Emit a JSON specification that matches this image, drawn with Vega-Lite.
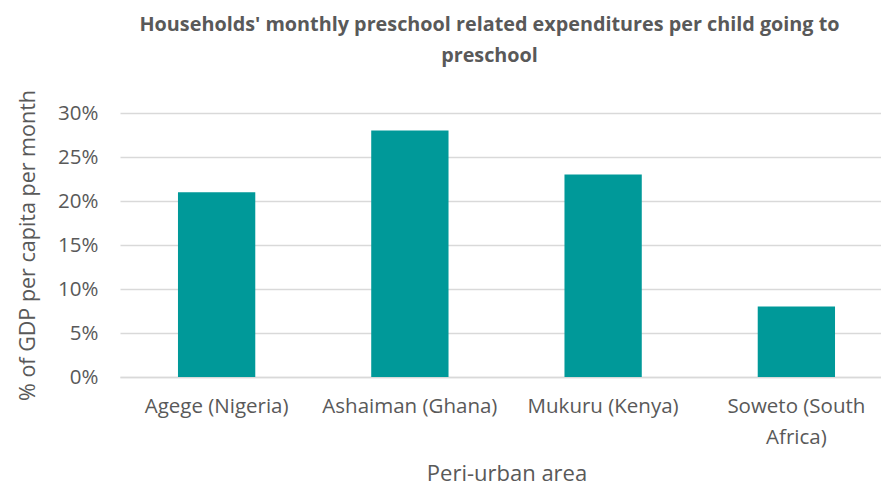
{
  "$schema": "https://vega.github.io/schema/vega-lite/v6.json",
  "autosize": "none",
  "width": 773,
  "height": 264,
  "padding": {"left": 120, "top": 113, "right": 0, "bottom": 111},
  "background": "white",
  "config": {
    "view": {"stroke": null},
    "font": "Open Sans"
  },
  "title": {
    "text": ["Households' monthly preschool related expenditures per child going to", "preschool"],
    "font": "Open Sans",
    "fontSize": 19.8,
    "fontWeight": "bold",
    "color": "#595959",
    "anchor": "middle",
    "dx": -17,
    "offset": 24,
    "lineHeight": 31
  },
  "data": {
    "values": [
      {"area": "Agege (Nigeria)", "value": 0.21},
      {"area": "Ashaiman (Ghana)", "value": 0.28},
      {"area": "Mukuru (Kenya)", "value": 0.23},
      {"area": "Soweto (South Africa)", "value": 0.08}
    ]
  },
  "mark": {"type": "bar", "color": "#009999"},
  "encoding": {
    "x": {
      "field": "area",
      "type": "nominal",
      "sort": null,
      "scale": {"paddingInner": 0.6, "paddingOuter": 0.3},
      "axis": {
        "title": "Peri-urban area",
        "titleFont": "Open Sans",
        "titleFontSize": 22,
        "titleFontWeight": "normal",
        "titleColor": "#595959",
        "titlePadding": 16,
        "labelAngle": 0,
        "labelFont": "Open Sans",
        "labelFontSize": 20.5,
        "labelColor": "#595959",
        "labelPadding": 19,
        "labelLineHeight": 31,
        "labelExpr": "datum.label == 'Soweto (South Africa)' ? ['Soweto (South', 'Africa)'] : datum.label",
        "ticks": false,
        "domainColor": "#d9d9d9",
        "domainWidth": 1.5
      }
    },
    "y": {
      "field": "value",
      "type": "quantitative",
      "scale": {"domain": [0, 0.3]},
      "axis": {
        "title": "% of GDP per capita per month",
        "titleFont": "Open Sans",
        "titleFontSize": 21.5,
        "titleFontWeight": "normal",
        "titleColor": "#595959",
        "titlePadding": 18,
        "format": ".0%",
        "values": [0, 0.05, 0.1, 0.15, 0.2, 0.25, 0.3],
        "labelFont": "Open Sans",
        "labelFontSize": 20.5,
        "labelColor": "#595959",
        "labelPadding": 22,
        "ticks": false,
        "domain": false,
        "gridColor": "#d9d9d9",
        "gridWidth": 1.5
      }
    }
  }
}
